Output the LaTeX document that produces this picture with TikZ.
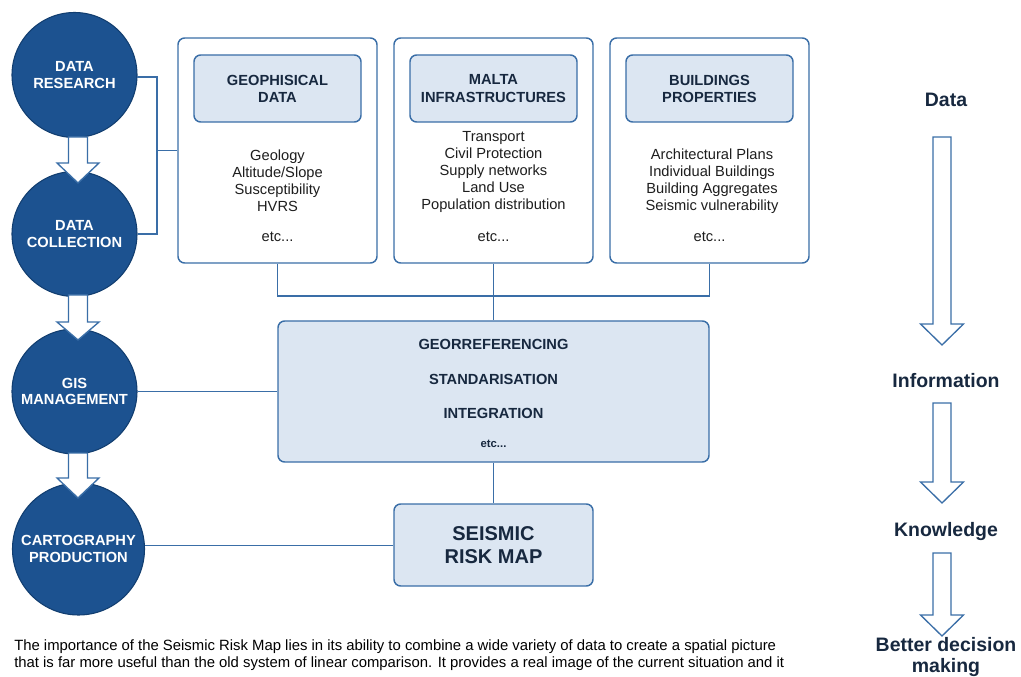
\documentclass[tikz,border=0pt]{standalone}
\usepackage{fontspec}
\setmainfont{Liberation Sans}
\definecolor{navy}{HTML}{1C5290}
\definecolor{navyline}{HTML}{123E70}
\definecolor{boxline}{HTML}{3A6EA7}
\definecolor{boxfill}{HTML}{DCE6F2}
\definecolor{darktext}{HTML}{17283F}
\definecolor{itemtext}{HTML}{1E1E1E}
\tikzset{
  stage/.style={circle, fill=navy, draw=navyline, line width=0.8pt, minimum size=93.75pt, inner sep=0pt,
     text=white, font=\bfseries\fontsize{11}{12.6}\selectfont, align=center},
  outerbox/.style={rectangle, rounded corners=5pt, draw=boxline, line width=1.1pt, fill=white,
     minimum width=149.25pt, minimum height=168.75pt},
  headbox/.style={rectangle, rounded corners=5pt, draw=boxline, line width=1.1pt, fill=boxfill,
     minimum width=125.25pt, minimum height=50.25pt, text=darktext, align=center,
     font=\bfseries\fontsize{11}{12.8}\selectfont},
  items/.style={text=itemtext, align=center, font=\fontsize{11}{12.8}\selectfont, inner sep=0pt},
  link/.style={draw=boxline, line width=1.3pt},
  blk/.style={draw=boxline, line width=1pt, fill=white},
  stepword/.style={text=darktext, font=\bfseries\fontsize{14.6}{15.8}\selectfont, align=center},
  bold11/.style={text=darktext, font=\bfseries\fontsize{11}{12.8}\selectfont},
  caption/.style={anchor=west, inner sep=0pt, text=black, font=\fontsize{11.15}{12}\selectfont},
}
\newcommand\blkarrow[6]{% x, ytop, yhead, ytip, shaft half, head half
  \path[blk] (#1-#5,#2) -- (#1+#5,#2) -- (#1+#5,#3) -- (#1+#6,#3) -- (#1,#4) -- (#1-#6,#3) -- (#1-#5,#3) -- cycle;}
\begin{document}
\begin{tikzpicture}[x=0.75pt,y=-0.75pt]
\useasboundingbox (0,0) rectangle (1021,677);

% stage circles
\node[stage] (res) at (74.5,75) {DATA\\RESEARCH};
\node[stage] (col) at (74.5,234) {DATA\\COLLECTION};
\node[stage] (gis) at (74.5,391.5) {GIS\\MANAGEMENT};
\node[stage, minimum size=99pt] (car) at (78.5,549) {CARTOGRAPHY\\PRODUCTION};

% block arrows between circles
\blkarrow{78}{137}{163}{183}{9.5}{21}
\blkarrow{78}{295}{322}{340}{9.5}{21}
\blkarrow{78}{453}{478}{498}{9.5}{21}

% three data boxes
\node[outerbox] (b1) at (277.5,150.5) {};
\node[outerbox] (b2) at (493.5,150.5) {};
\node[outerbox] (b3) at (709.5,150.5) {};
\node[headbox] (h1) at (277.5,88.5) {GEOPHISICAL\\DATA};
\node[headbox] (h2) at (493.5,88.5) {MALTA\\INFRASTRUCTURES};
\node[headbox] (h3) at (709.5,88.5) {BUILDINGS\\PROPERTIES};
\node[items] (i1) at (277.5,181) {Geology\\Altitude/Slope\\Susceptibility\\HVRS};
\node[items] (e1) at (277.5,237) {etc...};
\node[items] (i2) at (493.5,172) {Transport\\Civil Protection\\Supply networks\\Land Use\\Population distribution};
\node[items] (e2) at (493.5,237) {etc...};
\node[items] (i3) at (712,181) {Architectural Plans\\Individual Buildings\\Building Aggregates\\Seismic vulnerability};
\node[items] (e3) at (709.5,237) {etc...};

% integration box
\node[rectangle, rounded corners=5pt, draw=boxline, line width=1.1pt, fill=boxfill,
      minimum width=323.25pt, minimum height=105.75pt] (big) at (493.5,391.5) {};
\node[bold11] (g1) at (493.5,344) {GEORREFERENCING};
\node[bold11] (g2) at (493.5,379) {STANDARISATION};
\node[bold11] (g3) at (493.5,413) {INTEGRATION};
\node[text=darktext, font=\bfseries\fontsize{8.5}{10}\selectfont] (g4) at (493.5,444) {etc...};

% risk map
\node[rectangle, rounded corners=5pt, draw=boxline, line width=1.1pt, fill=boxfill,
      minimum width=149.25pt, minimum height=61.5pt, text=darktext, align=center,
      font=\bfseries\fontsize{15}{16.8}\selectfont] (risk) at (493.5,545) {SEISMIC\\RISK MAP};

% connectors
\coordinate (brk) at (157,150.5);
\coordinate (bus) at (493.5,296);
\draw[link] (res.-2) -| (brk) |- (col.east);
\draw[link] (brk) -- (b1.west);
\draw[link] (b1.south) |- (bus) -| (b3.south);
\draw[link] (b2.south) -- (big.north);
\draw[link] (gis.east) -- (gis.east -| big.west);
\draw[link] (big.south) -- (risk.north);
\draw[link] (car.3) -- (car.3 -| risk.west);

% right-hand progression
\node[stepword] (w1) at (946,100) {Data};
\node[stepword] (w2) at (946,381) {Information};
\node[stepword] (w3) at (946,532) {Knowledge};
\node[stepword] (w4) at (946,657) {Better decision\\making};
\blkarrow{942}{137}{324}{345}{9}{21.5}
\blkarrow{942}{403}{482}{503}{9}{21.5}
\blkarrow{942}{553}{615}{636}{9}{21.5}

% caption
\node[caption] (c1) at (14,647)
  {The importance of the Seismic Risk Map lies in its ability to combine a wide variety of data to create a spatial picture};
\node[caption] (c2) at (14,664)
  {that is far more useful than the old system of linear comparison. It provides a real image of the current situation and it};
\end{tikzpicture}
\end{document}
